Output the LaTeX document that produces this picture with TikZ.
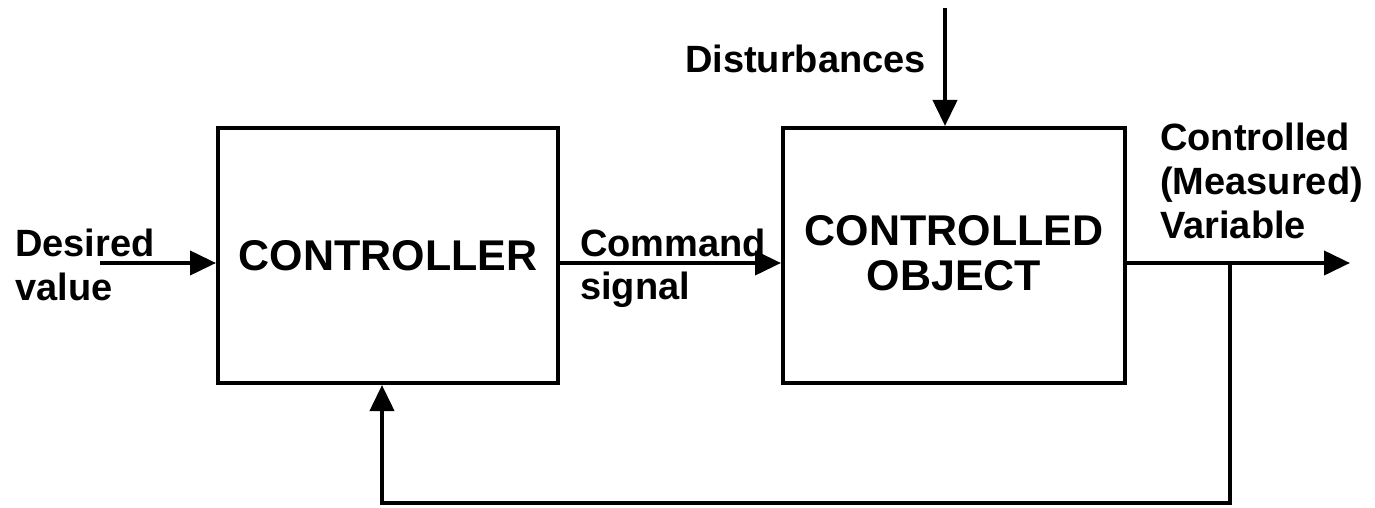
\documentclass[tikz,border=0pt]{standalone}
\usepackage{fontspec}
\setmainfont{Liberation Sans}
\usetikzlibrary{arrows.meta}
\begin{document}
\begin{tikzpicture}[x=1pt,y=-1pt,
  blockbox/.style={draw, line width=4pt, inner sep=0pt, align=center,
    font=\bfseries\fontsize{43}{45}\selectfont},
  lbl/.style={anchor=base west, inner sep=0pt, font=\bfseries\fontsize{38}{44}\selectfont},
  sig/.style={line width=4pt, -{Triangle[length=26pt,width=24pt]}},
  wire/.style={line width=4pt}]
\useasboundingbox (0,0) rectangle (1375,508);
\node[blockbox, minimum width=340pt, minimum height=255pt] (ctrl) at (388,255.5) {CONTROLLER};
\node[blockbox, minimum width=342pt, minimum height=255pt, text depth=6pt] (obj) at (954,255.5) {CONTROLLED\\OBJECT};
% input
\coordinate (in) at (100,263);
\draw[sig] (in) -- (in -| ctrl.west);
\node[lbl] (dv1) at (15,256) {Desired};
\node[lbl] (dv2) at (15,300) {value};
% command
\draw[sig] (ctrl.east |- in) -- (obj.west |- in);
\node[lbl] (cs1) at (580,256) {Command};
\node[lbl] (cs2) at (580,299) {signal};
% disturbances
\coordinate (dtop) at (945,8);
\draw[sig] (dtop) -- (dtop |- obj.north);
\node[lbl] (dist) at (685,73) {Disturbances};
% output
\coordinate (out) at (1350,263);
\draw[sig] (obj.east |- in) -- (out);
\node[lbl] (cv1) at (1160,150) {Controlled};
\node[lbl] (cv2) at (1160,194) {(Measured)};
\node[lbl] (cv3) at (1160,238) {Variable};
% feedback
\coordinate (tap) at (1230,263);
\coordinate (fbr) at (1230,503);
\coordinate (fbl) at (382,503);
\draw[sig, line join=miter] (tap) -- (fbr) -- (fbl) -- (fbl |- ctrl.south);
\end{tikzpicture}
\end{document}
